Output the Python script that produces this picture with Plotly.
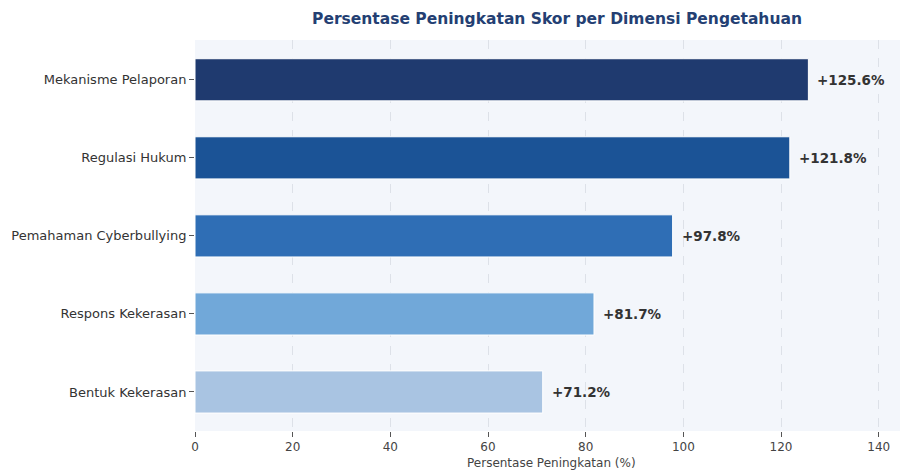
import plotly.graph_objects as go

categories = ["Mekanisme Pelaporan", "Regulasi Hukum", "Pemahaman Cyberbullying",
              "Respons Kekerasan", "Bentuk Kekerasan"]
values = [125.6, 121.8, 97.8, 81.7, 71.2]
colors = ["#1f3a6f", "#1b5396", "#2f6eb5", "#71a8d9", "#a9c4e2"]
tick_vals = [0, 20, 40, 60, 80, 100, 120, 140]

fig = go.Figure()
fig.add_trace(go.Bar(
    y=categories, x=values, orientation="h",
    marker=dict(color=colors, line=dict(color="white", width=1)),
    width=0.54, showlegend=False, hoverinfo="x+y",
))

for c, v in zip(categories, values):
    fig.add_annotation(x=v, y=c, text=f"<b>+{v:.1f}%</b>", showarrow=False,
                       xanchor="left", xshift=7,
                       font=dict(family="DejaVu Sans", size=13.5, color="#333333"))

fig.add_annotation(x=0.5, xref="paper", y=-0.082, yref="paper",
                   text="Persentase Peningkatan (%)", showarrow=False,
                   xanchor="center", yanchor="middle",
                   font=dict(family="DejaVu Sans", size=12, color="#444444"))

fig.update_layout(
    width=900, height=465,
    margin=dict(l=187, r=0, t=32, b=42, autoexpand=False),
    paper_bgcolor="white", plot_bgcolor="#f3f6fb",
    font=dict(family="DejaVu Sans", size=12, color="#444444"),
    title=dict(text="<b>Persentase Peningkatan Skor per Dimensi Pengetahuan</b>",
               x=0.61, xanchor="center", y=0.978, yanchor="middle",
               font=dict(family="DejaVu Sans", size=15.5, color="#243f73")),
    xaxis=dict(range=[0, 146], tickvals=tick_vals, showgrid=True, automargin=False,
               gridcolor="#dde1e8", griddash="dash", gridwidth=1,
               zeroline=False, showline=False, ticks="outside", ticklen=5,
               tickcolor="#555555", tickfont=dict(size=12, color="#444444")),
    yaxis=dict(autorange=False, range=[4.5, -0.51], showgrid=False, automargin=False,
               zeroline=False, showline=False, ticks="outside", ticklen=5,
               ticklabelstandoff=0,
               tickcolor="#555555", tickfont=dict(size=13, color="#333333")),
)

fig.write_html("out.html")
